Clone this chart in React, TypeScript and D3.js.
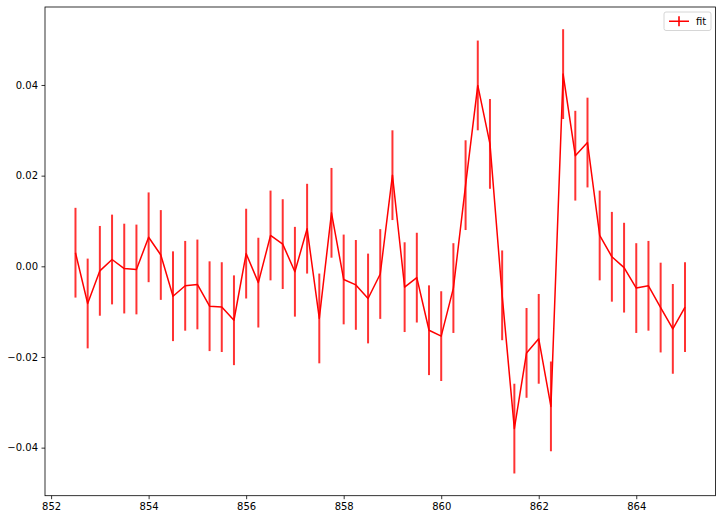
import React, { useEffect, useRef } from 'react';
import * as d3 from 'd3';

// x positions (step 0.25 from 852.5 to 865)
const xValues = [
  852.5, 852.75, 853, 853.25, 853.5, 853.75, 854, 854.25, 854.5, 854.75,
  855, 855.25, 855.5, 855.75, 856, 856.25, 856.5, 856.75, 857, 857.25,
  857.5, 857.75, 858, 858.25, 858.5, 858.75, 859, 859.25, 859.5, 859.75,
  860, 860.25, 860.5, 860.75, 861, 861.25, 861.5, 861.75, 862, 862.25,
  862.5, 862.75, 863, 863.25, 863.5, 863.75, 864, 864.25, 864.5, 864.75,
  865,
];

const fitValues = [
  0.0030, -0.0082, -0.0010, 0.0015, -0.0005, -0.0007, 0.0064, 0.0025, -0.0066, -0.0043,
  -0.0040, -0.0088, -0.0090, -0.0119, 0.0028, -0.0036, 0.0068, 0.0049, -0.0012, 0.0083,
  -0.0115, 0.0118, -0.0029, -0.0041, -0.0071, -0.0017, 0.0201, -0.0046, -0.0025, -0.0141,
  -0.0154, -0.0048, 0.0179, 0.0399, 0.0270, -0.0064, -0.0358, -0.0191, -0.0160, -0.0309,
  0.0424, 0.0244, 0.0273, 0.0068, 0.0021, -0.0003, -0.0048, -0.0043, -0.0091, -0.0138,
  -0.0090,
];

const fitErrors = xValues.map(() => 0.0099);

const xTicks = [852, 854, 856, 858, 860, 862, 864];
const yTicks = [-0.04, -0.02, 0.0, 0.02, 0.04];

const W = 721;
const H = 520;

const App: React.FC = () => {
  const svgRef = useRef<SVGSVGElement>(null);

  useEffect(() => {
    if (!svgRef.current) return;
    const svg = d3.select(svgRef.current);
    svg.selectAll('*').remove();

    const margin = { top: 7, right: 5.5, bottom: 24.3, left: 45 };
    const innerWidth = W - margin.left - margin.right;
    const innerHeight = H - margin.top - margin.bottom;

    const g = svg.append('g').attr('transform', `translate(${margin.left},${margin.top})`);

    // matplotlib style 5% margins
    const xMin = d3.min(xValues)!;
    const xMax = d3.max(xValues)!;
    const xPad = (xMax - xMin) * 0.05;
    const yLo = d3.min(fitValues, (d, i) => d - fitErrors[i])!;
    const yHi = d3.max(fitValues, (d, i) => d + fitErrors[i])!;
    const yPad = (yHi - yLo) * 0.05;

    const x = d3.scaleLinear().domain([xMin - xPad, xMax + xPad]).range([0, innerWidth]);
    const y = d3.scaleLinear().domain([yLo - yPad, yHi + yPad]).range([innerHeight, 0]);

    const font = '"DejaVu Sans", sans-serif';

    // Axes
    g.append('g')
      .attr('transform', `translate(0,${innerHeight})`)
      .call(d3.axisBottom(x).tickValues(xTicks).tickSize(3.5).tickPadding(3.5).tickFormat(d3.format('d')))
      .call(a => a.select('.domain').remove())
      .call(a => a.selectAll('.tick line').attr('stroke', '#000').attr('stroke-width', 0.8))
      .call(a => a.selectAll('.tick text').attr('fill', '#000').attr('font-size', 10).attr('font-family', font));

    g.append('g')
      .call(d3.axisLeft(y).tickValues(yTicks).tickSize(3.5).tickPadding(3.5)
        .tickFormat(d => d3.format('.2f')(d as number).replace('-', '\u2212')))
      .call(a => a.select('.domain').remove())
      .call(a => a.selectAll('.tick line').attr('stroke', '#000').attr('stroke-width', 0.8))
      .call(a => a.selectAll('.tick text').attr('fill', '#000').attr('font-size', 10).attr('font-family', font));

    // Error bars
    g.selectAll('.ebar')
      .data(fitValues)
      .enter().append('line')
      .attr('class', 'ebar')
      .attr('x1', (_, i) => x(xValues[i]))
      .attr('x2', (_, i) => x(xValues[i]))
      .attr('y1', (d, i) => y(d + fitErrors[i]))
      .attr('y2', (d, i) => y(d - fitErrors[i]))
      .attr('stroke', '#ff0000')
      .attr('stroke-opacity', 0.8)
      .attr('stroke-width', 2);

    // Fit line
    const line = d3.line<number>()
      .x((_, i) => x(xValues[i]))
      .y(d => y(d));

    g.append('path')
      .datum(fitValues)
      .attr('d', line)
      .attr('fill', 'none')
      .attr('stroke', '#ff0000')
      .attr('stroke-width', 1.5)
      .attr('stroke-linejoin', 'round');

    // Frame
    g.append('rect')
      .attr('width', innerWidth)
      .attr('height', innerHeight)
      .attr('fill', 'none')
      .attr('stroke', '#000')
      .attr('stroke-width', 0.8);

    // Legend
    const lw = 47;
    const lh = 18.5;
    const lx = innerWidth - lw - 4.5;
    const ly = 5;
    const legend = g.append('g').attr('transform', `translate(${lx},${ly})`);
    legend.append('rect')
      .attr('width', lw)
      .attr('height', lh)
      .attr('rx', 2)
      .attr('fill', '#fff')
      .attr('fill-opacity', 0.8)
      .attr('stroke', '#cccccc')
      .attr('stroke-width', 0.8);
    legend.append('line')
      .attr('x1', 5).attr('x2', 25).attr('y1', lh / 2).attr('y2', lh / 2)
      .attr('stroke', '#ff0000').attr('stroke-width', 1.5);
    legend.append('line')
      .attr('x1', 15).attr('x2', 15).attr('y1', lh / 2 - 5).attr('y2', lh / 2 + 5)
      .attr('stroke', '#ff0000').attr('stroke-opacity', 0.8).attr('stroke-width', 2);
    legend.append('text')
      .attr('x', 32)
      .attr('y', lh / 2)
      .attr('dy', '0.35em')
      .attr('font-size', 10)
      .attr('font-family', font)
      .attr('fill', '#000')
      .text('fit');
  }, []);

  return (
    <div style={{ position: 'fixed', left: 0, top: 0, width: W, height: H, background: '#fff' }}>
      <svg ref={svgRef} width={W} height={H} />
    </div>
  );
};

export default App;
